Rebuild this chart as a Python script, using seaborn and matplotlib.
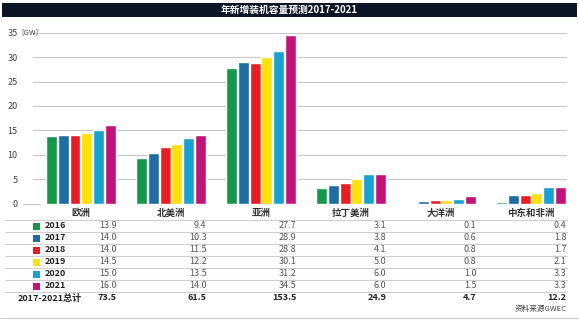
import matplotlib
matplotlib.use("Agg")
import matplotlib.pyplot as plt
import matplotlib.transforms as mtransforms
from matplotlib.patches import Rectangle
import seaborn as sns
import pandas as pd

# ---- data ----
regions = ["欧洲", "北美洲", "亚洲", "拉丁美洲", "大洋洲", "中东和非洲"]
years = ["2016", "2017", "2018", "2019", "2020", "2021"]
v2016 = [13.9, 9.4, 27.7, 3.1, 0.1, 0.4]
v2017 = [14.0, 10.3, 28.9, 3.8, 0.6, 1.8]
v2018 = [14.0, 11.5, 28.8, 4.1, 0.8, 1.7]
v2019 = [14.5, 12.2, 30.1, 5.0, 0.8, 2.1]
v2020 = [15.0, 13.5, 31.2, 6.0, 1.0, 3.3]
v2021 = [16.0, 14.0, 34.5, 6.0, 1.5, 3.3]
totals = [73.5, 61.5, 153.5, 24.9, 4.7, 12.2]
yticks = [0, 5, 10, 15, 20, 25, 30, 35]
title = "年新增装机容量预测2017-2021"
total_label = "2017-2021总计"
source = "资料来源GWEC"
unit = "[GW]"

series = [v2016, v2017, v2018, v2019, v2020, v2021]
colors = ["#12994a", "#1d6ea6", "#ec1c24", "#ffe200", "#16a2d2", "#c5127a"]

rows = []
for y, vals in zip(years, series):
    for r, v in zip(regions, vals):
        rows.append({"region": r, "year": y, "value": v})
df = pd.DataFrame(rows)

sns.set_theme(style="white")
plt.rcParams['font.family'] = ['Liberation Sans Narrow', 'Noto Sans CJK SC', 'DejaVu Sans']

W, H = 579, 321
fig = plt.figure(figsize=(W / 100, H / 100), dpi=100)
fig.patch.set_facecolor("white")

def fy(py):
    return 1 - py / H

def fx(px):
    return px / W

ax_left, ax_right = 33, 567
ax_top, ax_bot = 32.7, 203.5
ax = fig.add_axes([fx(ax_left), fy(ax_bot), fx(ax_right - ax_left), (ax_bot - ax_top) / H])

sns.barplot(data=df, x="region", y="value", hue="year", order=regions, hue_order=years,
            palette=colors, width=0.79, gap=0.08, legend=False, ax=ax, saturation=1)

ax.set_ylim(0, 35)
ax.set_xlim(-0.533, 5.4)
ax.set_yticks(yticks)
ax.set_yticklabels([str(t) for t in yticks], fontsize=6.5, color="#444444")
ax.tick_params(axis="y", length=0, pad=11)
ax.set_xticks([])
ax.set_xlabel("")
ax.set_ylabel("")
for s in ax.spines.values():
    s.set_visible(False)
for t in yticks[1:]:
    ax.axhline(t, color="#c8c8c8", lw=0.8, zorder=0)
ax.plot([(23 - ax_left) / (ax_right - ax_left), (40 - ax_left) / (ax_right - ax_left)], [0, 0],
        transform=ax.get_yaxis_transform() if False else mtransforms.blended_transform_factory(ax.transAxes, ax.transData),
        color="#c8c8c8", lw=0.8, clip_on=False)
ax.text(fx(21), fy(ax_top), unit, transform=fig.transFigure, fontsize=5.5, color="#444444",
        ha="left", va="center")

# title bar
fig.patches.append(Rectangle((fx(2), fy(17)), fx(575), 14 / H, transform=fig.transFigure,
                             facecolor="#0b1526", edgecolor="none", zorder=0))
fig.text(0.5, fy(10), title, color="white", fontsize=7, fontweight="bold", ha="center", va="center")

# table
bt = mtransforms.blended_transform_factory(ax.transData, fig.transFigure)
for i, r in enumerate(regions):
    fig.text(i, fy(213), r, transform=bt, ha="center", va="center", fontsize=6.8,
             fontweight="bold", color="#333333")

row_y = [226, 238, 250, 262, 274, 286]
for py in [220, 232, 244, 256, 268, 280, 292]:
    fig.add_artist(plt.Line2D([fx(5), fx(567)], [fy(py), fy(py)], transform=fig.transFigure,
                              color="#cfcfcf", lw=0.8))
fig.add_artist(plt.Line2D([fx(0), fx(579)], [fy(318), fy(318)], transform=fig.transFigure,
                          color="#cfcfcf", lw=0.8))

for j, (y, vals, c) in enumerate(zip(years, series, colors)):
    py = row_y[j]
    fig.patches.append(Rectangle((fx(33), fy(py + 3.5)), fx(7), 7 / H, transform=fig.transFigure,
                                 facecolor=c, edgecolor="none"))
    fig.text(fx(45), fy(py), y, ha="left", va="center", fontsize=6.5, fontweight="bold",
             color="#222222")
    for i, v in enumerate(vals):
        fig.text(i + 0.395, fy(py), f"{v:.1f}", transform=bt, ha="right", va="center",
                 fontsize=6.5, color="#555555")

fig.text(fx(50), fy(298), total_label, ha="center", va="center", fontsize=6.5,
         fontweight="bold", color="#222222")
for i, v in enumerate(totals):
    fig.text(i + 0.395, fy(298), f"{v:.1f}", transform=bt, ha="right", va="center",
             fontsize=6.5, fontweight="bold", color="#222222")

fig.text(fx(567), fy(309), source, ha="right", va="center", fontsize=5.5, color="#444444")

fig.savefig("out.png", dpi=100, facecolor="white")
